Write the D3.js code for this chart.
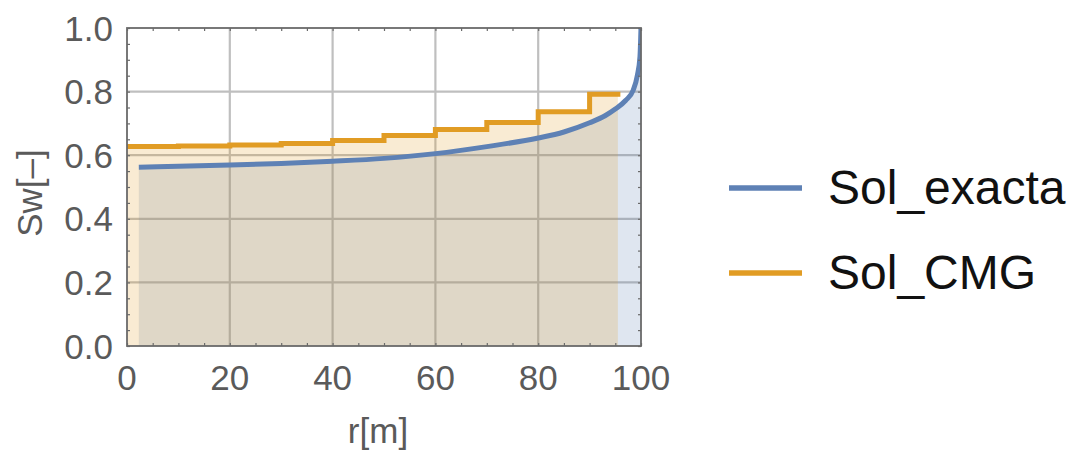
<!DOCTYPE html>
<html>
<head>
<meta charset="utf-8">
<script src="https://cdn.jsdelivr.net/npm/d3@7"></script>
<style>
    body { margin: 0; background: #fff; }
    text { font-family: "Liberation Sans", Arial, sans-serif; }
</style>
</head>
<body>
<svg id="chart" width="1074" height="455"></svg>
<script>
// exact solution (blue curve)
let exactR  = [2.3, 10, 20, 30, 40, 50, 60, 70, 80, 85, 90, 93, 95, 97, 98.5, 99.3, 99.8, 100];
let exactSw = [0.562, 0.565, 0.569, 0.574, 0.581, 0.590, 0.605, 0.627, 0.654, 0.673, 0.702, 0.724, 0.745, 0.772, 0.805, 0.852, 0.910, 1.0];

// CMG result (step line), left edge of each cell, last entry is the end
let cmgR  = [0, 10, 20, 30, 40, 50, 60, 70, 80, 90, 95.5];
let cmgSw = [0.627, 0.629, 0.632, 0.637, 0.646, 0.662, 0.681, 0.703, 0.737, 0.792, 0.792];

let xTicks = [0, 20, 40, 60, 80, 100];
let yTicks = [0, 0.2, 0.4, 0.6, 0.8, 1.0];
let seriesNames = ["Sol_exacta", "Sol_CMG"];
let colors = ["#5e81b5", "#e19c24"];

let pLeft = 127, pRight = 641, pTop = 28, pBottom = 346;

let x = d3.scaleLinear().domain([0, 100]).range([pLeft, pRight]);
let y = d3.scaleLinear().domain([0, 1]).range([pBottom, pTop]);

let svg = d3.select("#chart");

svg.append("clipPath").attr("id", "plotClip")
    .append("rect")
    .attr("x", pLeft).attr("y", pTop)
    .attr("width", pRight - pLeft).attr("height", pBottom - pTop);

// grid lines
let gridCol = "#bfbfbf";
let grid = svg.append("g");
grid.selectAll("line.gx")
    .data(xTicks.filter(d => d > 0 && d < 100))
    .join("line")
    .attr("class", "gx")
    .attr("x1", d => x(d)).attr("x2", d => x(d))
    .attr("y1", pTop).attr("y2", pBottom)
    .attr("stroke", gridCol).attr("stroke-width", 2.2);
grid.selectAll("line.gy")
    .data(yTicks.filter(d => d > 0 && d < 1))
    .join("line")
    .attr("class", "gy")
    .attr("x1", pLeft).attr("x2", pRight)
    .attr("y1", d => y(d)).attr("y2", d => y(d))
    .attr("stroke", gridCol).attr("stroke-width", 2.2);

let exactPts = exactR.map((r, i) => [r, exactSw[i]]);
let cmgPts = cmgR.map((r, i) => [r, cmgSw[i]]);

let plot = svg.append("g").attr("clip-path", "url(#plotClip)");

// fills down to the axis
let blueArea = d3.area()
    .x(d => x(d[0])).y0(y(0)).y1(d => y(d[1]))
    .curve(d3.curveMonotoneX);
let stepArea = d3.area()
    .x(d => x(d[0])).y0(y(0)).y1(d => y(d[1]))
    .curve(d3.curveStepAfter);

plot.append("path").attr("d", blueArea(exactPts))
    .attr("fill", colors[0]).attr("fill-opacity", 0.2);
plot.append("path").attr("d", stepArea(cmgPts))
    .attr("fill", colors[1]).attr("fill-opacity", 0.2);

// lines
let blueLine = d3.line().x(d => x(d[0])).y(d => y(d[1])).curve(d3.curveMonotoneX);
let stepLine = d3.line().x(d => x(d[0])).y(d => y(d[1])).curve(d3.curveStepAfter);

plot.append("path").attr("d", blueLine(exactPts))
    .attr("fill", "none").attr("stroke", colors[0]).attr("stroke-width", 5);
plot.append("path").attr("d", stepLine(cmgPts))
    .attr("fill", "none").attr("stroke", colors[1]).attr("stroke-width", 5)
    .attr("stroke-linecap", "square");

// frame with inward ticks on all sides
let frameCol = "#6a6a6a";
let xMinor = d3.range(0, 101, 5);
let yMinor = d3.range(0, 1.0001, 0.05);

svg.append("g").attr("transform", `translate(0,${pBottom})`)
    .call(d3.axisBottom(x).tickValues(xMinor).tickSize(-3).tickFormat(""))
    .call(g => g.select(".domain").remove());
svg.append("g").attr("transform", `translate(0,${pTop})`)
    .call(d3.axisTop(x).tickValues(xMinor).tickSize(-3).tickFormat(""))
    .call(g => g.select(".domain").remove());
svg.append("g").attr("transform", `translate(${pLeft},0)`)
    .call(d3.axisLeft(y).tickValues(yMinor).tickSize(-3).tickFormat(""))
    .call(g => g.select(".domain").remove());
svg.append("g").attr("transform", `translate(${pRight},0)`)
    .call(d3.axisRight(y).tickValues(yMinor).tickSize(-3).tickFormat(""))
    .call(g => g.select(".domain").remove());

svg.selectAll(".tick line").attr("stroke", frameCol).attr("stroke-width", 1.2);

svg.append("rect")
    .attr("x", pLeft).attr("y", pTop)
    .attr("width", pRight - pLeft).attr("height", pBottom - pTop)
    .attr("fill", "none").attr("stroke", frameCol).attr("stroke-width", 1.8);

// tick labels
let labelCol = "#5a5a5a";
svg.append("g").selectAll("text")
    .data(xTicks)
    .join("text")
    .attr("x", d => x(d)).attr("y", 390)
    .attr("text-anchor", "middle")
    .attr("font-size", 35).attr("fill", labelCol)
    .text(d => d3.format("d")(d));
svg.append("g").selectAll("text")
    .data(yTicks)
    .join("text")
    .attr("x", 113).attr("y", d => y(d))
    .attr("dy", "0.36em")
    .attr("text-anchor", "end")
    .attr("font-size", 35).attr("fill", labelCol)
    .text(d => d3.format(".1f")(d));

// axis titles
svg.append("text")
    .attr("x", (pLeft + pRight) / 2 - 6).attr("y", 443)
    .attr("text-anchor", "middle")
    .attr("font-size", 35).attr("fill", labelCol)
    .text("r[m]");
svg.append("text")
    .attr("transform", "translate(42,193) rotate(-90)")
    .attr("text-anchor", "middle")
    .attr("font-size", 35).attr("fill", labelCol)
    .text("Sw[–]");

// legend
let legend = svg.append("g").selectAll("g")
    .data(seriesNames)
    .join("g")
    .attr("transform", (d, i) => `translate(729,${188 + i * 85})`);
legend.append("line")
    .attr("x1", 0).attr("x2", 73)
    .attr("stroke", (d, i) => colors[i]).attr("stroke-width", 5.5);
legend.append("text")
    .attr("x", 99).attr("y", 16)
    .attr("font-size", 48).attr("fill", "#111")
    .text(d => d);
</script>
</body>
</html>
